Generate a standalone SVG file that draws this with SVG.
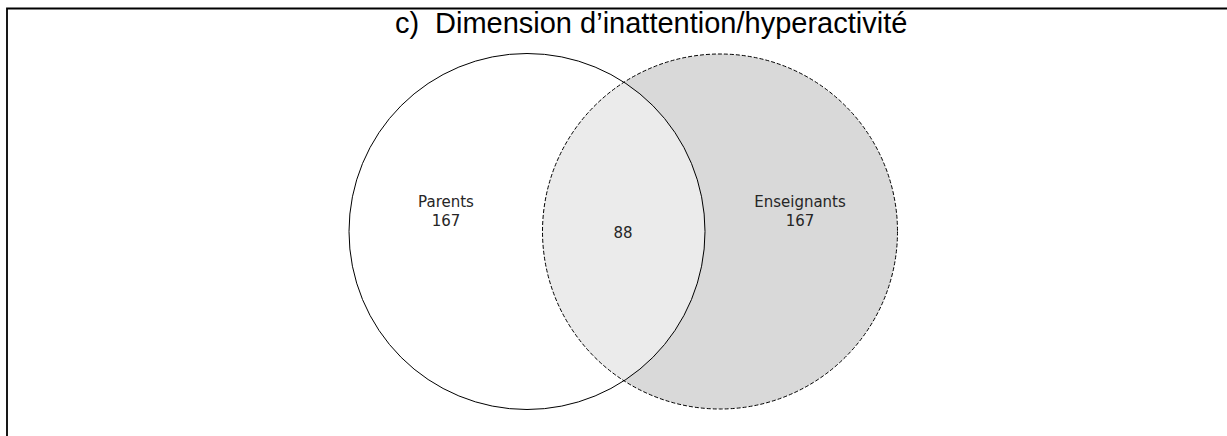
<svg xmlns="http://www.w3.org/2000/svg" width="1227" height="436" viewBox="0 0 1227 436">
<style>
.lbl{font-family:"DejaVu Sans",sans-serif;font-size:15px;fill:#262626;text-anchor:middle}
.title{font-family:"Liberation Sans",Arial,sans-serif;font-size:29px;fill:#000}
</style>
<defs>
<clipPath id="clipLeft"><circle cx="527" cy="231.5" r="178"/></clipPath>
</defs>
<rect width="1227" height="436" fill="#fff"/>
<path d="M7 436 V8.5 H1227" fill="none" stroke="#000" stroke-width="1.8"/>
<text class="title" x="395" y="33">c)</text>
<text class="title" x="435" y="33">Dimension d’inattention/hyperactivité</text>
<g id="parents">
<circle cx="527" cy="231.5" r="178" fill="#fff"/>
</g>
<g id="enseignants">
<circle cx="720" cy="231.5" r="177.5" fill="#d9d9d9"/>
</g>
<g id="intersection">
<circle cx="720" cy="231.5" r="177.5" fill="#ebebeb" clip-path="url(#clipLeft)"/>
</g>
<g id="outlines">
<circle cx="527" cy="231.5" r="178" fill="none" stroke="#000" stroke-width="1"/>
<circle cx="720" cy="231.5" r="177.5" fill="none" stroke="#000" stroke-width="1" stroke-dasharray="4,2"/>
</g>
<text class="lbl" x="446" y="207">Parents</text>
<text class="lbl" x="446" y="225.5">167</text>
<text class="lbl" x="623" y="238">88</text>
<text class="lbl" x="800" y="207">Enseignants</text>
<text class="lbl" x="800" y="225.5">167</text>
</svg>
